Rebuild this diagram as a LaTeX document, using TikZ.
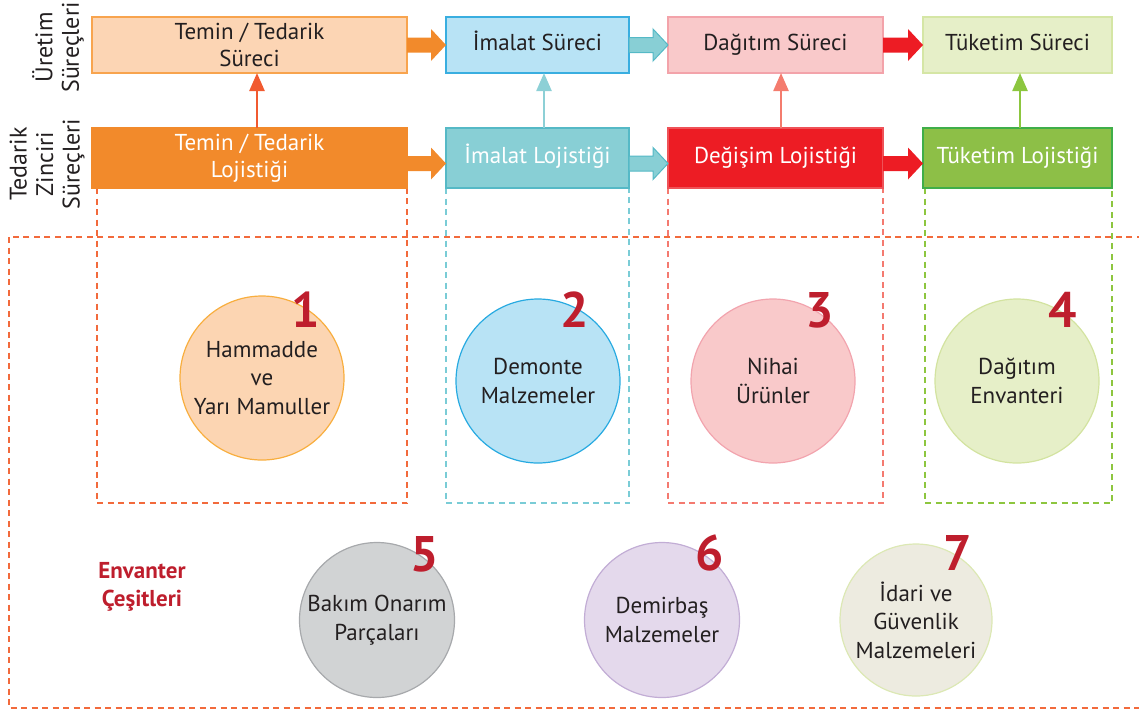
\documentclass[tikz,border=0pt]{standalone}
\usepackage{fontspec}
\setmainfont{PT Sans}
\usetikzlibrary{arrows.meta,calc}

\definecolor{ink}{HTML}{231F20}
\definecolor{numred}{HTML}{BE1E2D}
\definecolor{peach}{HTML}{FCD5B4}
\definecolor{peachfill}{HTML}{FCD5B2}
\definecolor{peachline}{HTML}{F8A44E}
\definecolor{orangemain}{HTML}{F28A2B}
\definecolor{orangered}{HTML}{F15A30}
\definecolor{skyfill}{HTML}{B8E3F5}
\definecolor{skyline}{HTML}{39AEE0}
\definecolor{tealfill}{HTML}{88CFD5}
\definecolor{tealline}{HTML}{55B9C6}
\definecolor{tealarrow}{HTML}{8DD0D6}
\definecolor{pinkfill}{HTML}{F9C9CA}
\definecolor{pinkline}{HTML}{F3A3AA}
\definecolor{redmain}{HTML}{ED1C24}
\definecolor{redline}{HTML}{EF5258}
\definecolor{salmon}{HTML}{F47C6E}
\definecolor{limefill}{HTML}{E6EFC8}
\definecolor{limeline}{HTML}{D5E6A5}
\definecolor{greenfill}{HTML}{8DBF47}
\definecolor{greenline}{HTML}{3FAE49}
\definecolor{greenarrow}{HTML}{8CC63F}
\definecolor{dashorange}{HTML}{F26A3C}
\definecolor{dashteal}{HTML}{7ACCD6}
\definecolor{dashsalmon}{HTML}{F47A70}
\definecolor{dashgreen}{HTML}{8DC63F}
\definecolor{greyfill}{HTML}{D1D3D4}
\definecolor{greyline}{HTML}{A7A9AC}
\definecolor{lilacfill}{HTML}{E4D9EC}
\definecolor{lilacline}{HTML}{C2ADD5}
\definecolor{beigefill}{HTML}{EDEBE0}
\definecolor{beigeline}{HTML}{DCE8B4}
\definecolor{c1line}{HTML}{F8AE3E}
\definecolor{c2line}{HTML}{27AAE1}
\definecolor{c3line}{HTML}{F2A4AE}
\definecolor{c4line}{HTML}{D3E3A0}

% block arrow between two boxes: style, from node, to node, vertical shift
\newcommand\blockarrow[4]{%
  \path[#1] let \p1=(#2.east), \p2=(#3.west), \p3=([yshift=#4]#2.east) in
    (\x1,\y3+7.5pt) -- (\x2-15pt,\y3+7.5pt) -- (\x2-15pt,\y3+16pt) --
    (\x2,\y3) -- (\x2-15pt,\y3-16pt) -- (\x2-15pt,\y3-7.5pt) --
    (\x1,\y3-7.5pt) -- cycle;}

\begin{document}
\begin{tikzpicture}[x=1pt,y=-1pt,
  procbox/.style={draw, line width=1.2pt, minimum height=56pt, outer sep=0pt,
    inner sep=0pt, align=center, text=ink,
    font=\fontsize{23}{27}\selectfont},
  logbox/.style={procbox, minimum height=60pt, text=white},
  oneline/.style={text height=16.5pt, text depth=5.5pt},
  varrow/.style={draw=#1, line width=2.4pt,
    -{Triangle[length=18pt,width=15pt]}},
  colframe/.style={draw=#1, line width=2.5pt, dash pattern=on 6pt off 4.5pt},
  invcircle/.style={circle, fill=#1fill, draw=#1line, line width=1.2pt,
    minimum size=164pt, inner sep=0pt, align=center, text=ink,
    font=\fontsize{23}{28.5}\selectfont},
  numlabel/.style={inner sep=0pt, text=numred,
    font=\fontsize{50}{50}\selectfont\bfseries},
  rowlabel/.style={rotate=90, align=center, text=ink, inner sep=0pt,
    font=\fontsize{24}{26.5}\selectfont}
]
\useasboundingbox (0,0) rectangle (1139,710);

% dashed frames below each logistics column
\draw[colframe=dashorange] (97,188) rectangle (407,503);
\draw[colframe=dashteal]   (446,188) rectangle (629,503);
\draw[colframe=dashsalmon] (668,188) rectangle (883,503);
\draw[colframe=dashgreen]  (925,188) rectangle (1112,503);

% outer frame of the inventory area (runs past the right edge)
\begin{scope}
  \clip (0,0) rectangle (1139,710);
  \draw[colframe=dashorange] (9,237) rectangle (1160,708);
\end{scope}

% row labels
\node[rowlabel] (rowP) at (58,47.5) {Üretim\\Süreçleri};
\node[rowlabel] (rowL) at (47,164) {Tedarik\\Zinciri\\Süreçleri};

% production processes
\node[procbox, fill=peach, draw=peachline, minimum width=315pt] (p1) at (249.5,45) {Temin / Tedarik\\Süreci};
\node[procbox, oneline, fill=skyfill, draw=skyline, minimum width=183pt] (p2) at (537.5,45) {İmalat Süreci};
\node[procbox, oneline, fill=pinkfill, draw=pinkline, minimum width=215pt] (p3) at (775.5,45) {Dağıtım Süreci};
\node[procbox, oneline, fill=limefill, draw=limeline, minimum width=189pt] (p4) at (1017.5,45) {Tüketim Süreci};

% supply chain processes
\node[logbox, fill=orangemain, draw=orangemain, minimum width=315pt] (l1) at (249.5,158) {Temin / Tedarik\\Lojistiği};
\node[logbox, oneline, fill=tealfill, draw=tealline, minimum width=183pt] (l2) at (537.5,158) {İmalat Lojistiği};
\node[logbox, oneline, fill=redmain, draw=redline, minimum width=215pt] (l3) at (775.5,158) {Değişim Lojistiği};
\node[logbox, oneline, fill=greenfill, draw=greenline, minimum width=189pt] (l4) at (1017.5,158) {Tüketim Lojistiği};

% horizontal block arrows
\blockarrow{fill=orangemain}{p1}{p2}{0pt}
\blockarrow{fill=tealfill, draw=tealline, line width=1pt}{p2}{p3}{0pt}
\blockarrow{fill=redmain}{p3}{p4}{0pt}
\blockarrow{fill=orangemain}{l1}{l2}{-5.5pt}
\blockarrow{fill=tealfill, draw=tealline, line width=1pt}{l2}{l3}{-5.5pt}
\blockarrow{fill=redmain}{l3}{l4}{-5.5pt}

% vertical arrows from logistics to processes
\draw[varrow=orangered]  ([xshift=7.5]l1.north) -- ([xshift=7.5]p1.south);
\draw[varrow=tealarrow]  ([xshift=6.5]l2.north) -- ([xshift=6.5]p2.south);
\draw[varrow=salmon]     ([xshift=5.5]l3.north) -- ([xshift=5.5]p3.south);
\draw[varrow=greenarrow] ([xshift=2.5]l4.north) -- ([xshift=2.5]p4.south);

% inventory types
\node[invcircle=peach, draw=c1line] (c1) at (262,378) {Hammadde\\ve\\Yarı Mamuller};
\node[invcircle=sky, draw=c2line] (c2) at (538,381) {Demonte\\Malzemeler};
\node[invcircle=pink, draw=c3line] (c3) at (773,381) {Nihai\\Ürünler};
\node[invcircle=lime, draw=c4line] (c4) at (1017,381) {Dağıtım\\Envanteri};
\node[invcircle=grey, minimum size=155pt] (c5) at (377,620) {Bakım Onarım\\Parçaları};
\node[invcircle=lilac, minimum size=155pt] (c6) at (662,620) {Demirbaş\\Malzemeler};
\node[invcircle=beige, minimum size=152pt] (c7) at (916,620) {İdari ve\\Güvenlik\\Malzemeleri};

\node[numlabel] (n1) at (306,310) {1};
\node[numlabel] (n2) at (575,310) {2};
\node[numlabel] (n3) at (820,310) {3};
\node[numlabel] (n4) at (1063,310) {4};
\node[numlabel] (n5) at (425,554) {5};
\node[numlabel] (n6) at (710,553) {6};
\node[numlabel] (n7) at (958,553) {7};

\node[align=center, text=numred, inner sep=0pt,
  font=\fontsize{23}{28}\selectfont\bfseries] (inv) at (142,587) {Envanter\\Çeşitleri};
\end{tikzpicture}
\end{document}
